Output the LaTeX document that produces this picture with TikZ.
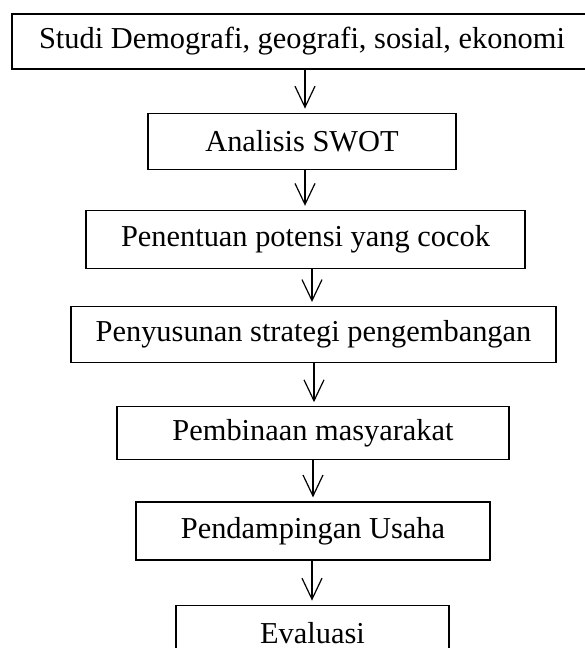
\documentclass[tikz,border=0pt]{standalone}
\usepackage{fontspec}
\setmainfont{Liberation Serif}
\usetikzlibrary{positioning,arrows.meta}

\begin{document}
\begin{tikzpicture}[
        box/.style={draw, rectangle, line width=0.6pt, minimum height=28pt, inner sep=0pt, font=\fontsize{15.2}{18}\selectfont},
        flow/.style={->, draw, line width=0.6pt, shorten >=2pt},
        >={Straight Barb[length=10.5pt,width=10pt]}]
        \useasboundingbox (0,0) rectangle (292pt,-324pt);
        \node[box, minimum width=290pt, minimum height=27.5pt] (studi) at (151pt,-20.75pt) {Studi Demografi, geografi, sosial, ekonomi};
        \node[box, minimum width=154pt, below = 21.5pt of studi] (swot) {Analisis SWOT};
        \node[box, minimum width=219.5pt, minimum height=29pt, below = 20pt of swot, xshift=1.75pt] (potensi) {Penentuan potensi yang cocok};
        \node[box, minimum width=242.5pt, below = 18.5pt of potensi, xshift=4pt] (strategi) {Penyusunan strategi pengembangan};
        \node[box, minimum width=196pt, minimum height=26.5pt, below = 21.5pt of strategi, xshift=-0.25pt] (pembinaan) {Pembinaan masyarakat};
        \node[box, minimum width=177pt, minimum height=29pt, below = 20.5pt of pembinaan] (pendampingan) {Pendampingan Usaha};
        \node[box, minimum width=136.5pt, below = 22pt of pendampingan, xshift=-0.25pt] (evaluasi) {Evaluasi};

        \path[flow] ([xshift=1.5pt]studi.south) -- ([xshift=1.5pt]studi.south |- swot.north);
        \path[flow] ([xshift=1.5pt]swot.south) -- ([xshift=1.5pt]swot.south |- potensi.north);
        \path[flow] ([xshift=3.25pt]potensi.south) -- ([xshift=3.25pt]potensi.south |- strategi.north);
        \path[flow] ([xshift=0.25pt]strategi.south) -- ([xshift=0.25pt]strategi.south |- pembinaan.north);
        \path[flow] (pembinaan.south) -- (pembinaan.south |- pendampingan.north);
        \path[flow] ([xshift=-0.5pt]pendampingan.south) -- ([xshift=-0.5pt]pendampingan.south |- evaluasi.north);
\end{tikzpicture}
\end{document}
